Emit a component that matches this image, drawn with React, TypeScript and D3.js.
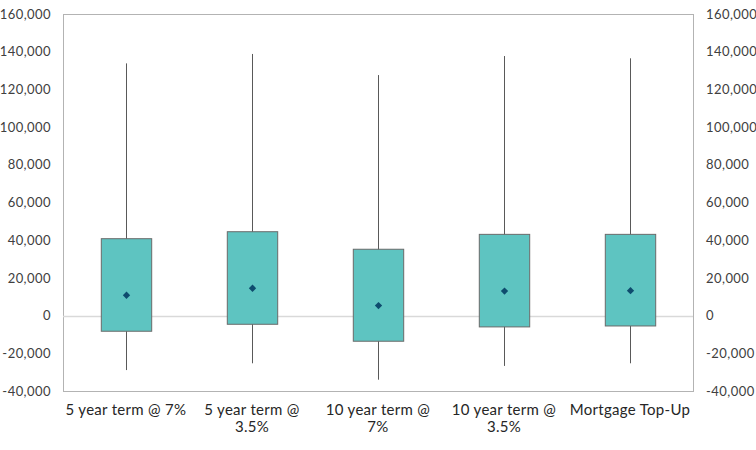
import React, { useEffect, useRef } from "react";
import * as d3 from "d3";

// Scenario categories and their distribution summaries
const categories = [
  "5 year term @ 7%",
  "5 year term @ 3.5%",
  "10 year term @ 7%",
  "10 year term @ 3.5%",
  "Mortgage Top-Up",
];
const whiskerMin = [-28900, -25300, -34000, -26700, -25300];
const boxLow = [-8300, -4600, -13600, -6000, -5500];
const meanValues = [10800, 14500, 5300, 13000, 13200];
const boxHigh = [40800, 44500, 35200, 43100, 43100];
const whiskerMax = [133800, 138800, 127600, 137700, 136500];
const yTicks = [-40000, -20000, 0, 20000, 40000, 60000, 80000, 100000, 120000, 140000, 160000];

const W = 756;
const H = 450;
const M = { top: 14, right: 63, bottom: 59, left: 63 };
const FONT = "Lato, 'Open Sans', sans-serif";

export default function App() {
  const ref = useRef<SVGSVGElement>(null);

  useEffect(() => {
    const svg = d3.select(ref.current);
    svg.selectAll("*").remove();

    const x = d3
      .scaleBand<string>()
      .domain(categories)
      .range([M.left, W - M.right])
      .paddingInner(0)
      .paddingOuter(0);
    const y = d3.scaleLinear().domain([-40000, 160000]).range([H - M.bottom, M.top]);
    const fmt = (v: number) => d3.format(",")(v).replace("\u2212", "-");
    const boxW = x.bandwidth() * 0.4;

    // plot frame
    svg
      .append("rect")
      .attr("x", M.left + 0.5)
      .attr("y", M.top + 0.5)
      .attr("width", W - M.left - M.right)
      .attr("height", H - M.top - M.bottom)
      .attr("fill", "none")
      .attr("stroke", "#b3b3b3")
      .attr("stroke-width", 1);

    // zero line
    svg
      .append("line")
      .attr("x1", M.left)
      .attr("x2", W - M.right)
      .attr("y1", Math.round(y(0)) + 0.5)
      .attr("y2", Math.round(y(0)) + 0.5)
      .attr("stroke", "#d9d9d9")
      .attr("stroke-width", 1.5);

    // left and right tick labels
    const leftAxis = d3.axisLeft(y).tickValues(yTicks).tickFormat((d) => fmt(d as number)).tickSize(0).tickPadding(12);
    const rightAxis = d3.axisRight(y).tickValues(yTicks).tickFormat((d) => fmt(d as number)).tickSize(0).tickPadding(13);
    for (const [axis, tx] of [
      [leftAxis, M.left],
      [rightAxis, W - M.right],
    ] as const) {
      const g = svg.append("g").attr("transform", `translate(${tx},0)`).call(axis as any);
      g.select(".domain").remove();
      g.selectAll("text")
        .attr("font-family", FONT)
        .attr("font-size", 13)
        .attr("letter-spacing", 0.45)
        .attr("fill", "#404040");
    }

    // boxes
    categories.forEach((c, i) => {
      const cx = Math.round((x(c) as number) + x.bandwidth() / 2) + 0.5;
      const g = svg.append("g");
      g.append("line")
        .attr("x1", cx)
        .attr("x2", cx)
        .attr("y1", y(whiskerMax[i]))
        .attr("y2", y(whiskerMin[i]))
        .attr("stroke", "#595959")
        .attr("stroke-width", 1);
      g.append("rect")
        .attr("x", cx - boxW / 2)
        .attr("width", boxW)
        .attr("y", y(boxHigh[i]))
        .attr("height", y(boxLow[i]) - y(boxHigh[i]))
        .attr("fill", "#5EC4C1")
        .attr("stroke", "#6a6a6a")
        .attr("stroke-width", 1);
      g.append("path")
        .attr("d", d3.symbol(d3.symbolDiamond2, 34)())
        .attr("transform", `translate(${cx},${y(meanValues[i])})`)
        .attr("fill", "#0E4C6E");
    });

    // category labels, wrapped to the band width
    const maxW = x.bandwidth() + 2;
    categories.forEach((c) => {
      const cx = (x(c) as number) + x.bandwidth() / 2;
      const t = svg
        .append("text")
        .attr("x", cx)
        .attr("y", H - M.bottom + 24)
        .attr("text-anchor", "middle")
        .attr("font-family", FONT)
        .attr("font-size", 15)
        .attr("letter-spacing", 0.3)
        .attr("fill", "#262626");
      const words = c.split(" ");
      let line: string[] = [];
      let tspan = t.append("tspan").attr("x", cx).attr("dy", 0);
      for (const w of words) {
        line.push(w);
        tspan.text(line.join(" "));
        if ((tspan.node() as SVGTSpanElement).getComputedTextLength() > maxW && line.length > 1) {
          line.pop();
          tspan.text(line.join(" "));
          line = [w];
          tspan = t.append("tspan").attr("x", cx).attr("dy", 17).text(w);
        }
      }
    });
  }, []);

  return (
    <svg
      ref={ref}
      width={W}
      height={H}
      style={{ position: "absolute", left: 0, top: 0, background: "#fff" }}
    />
  );
}
